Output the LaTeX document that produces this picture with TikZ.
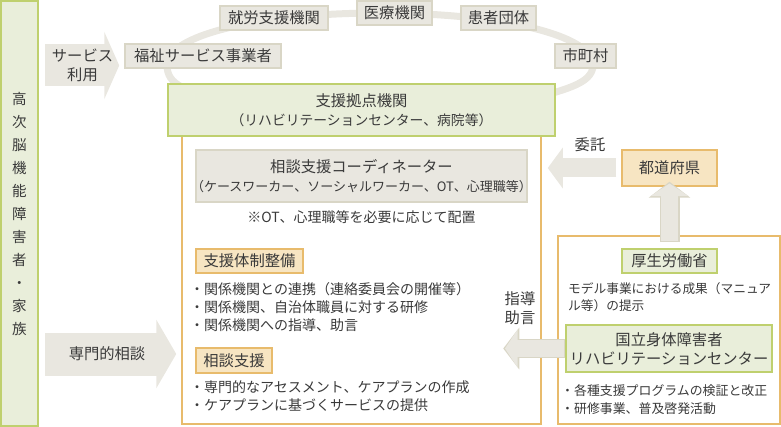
\documentclass[tikz,border=0pt]{standalone}
\usepackage{fontspec}
\usetikzlibrary{arrows.meta,positioning}
\setmainfont{Noto Sans CJK JP}
\definecolor{softfill}{HTML}{E9E7E0}
\definecolor{softline}{HTML}{D9D6C6}
\definecolor{leaffill}{HTML}{E9EEDA}
\definecolor{leafline}{HTML}{BFD06E}
\definecolor{sandfill}{HTML}{F7E5C2}
\definecolor{sandline}{HTML}{E8BB6C}
\definecolor{inktext}{HTML}{3A3A3A}
\newcommand{\bigfont}{\fontsize{15.3}{19}\selectfont}
\tikzset{
  panelbox/.style={draw=sandline,line width=1.5pt,fill=white,inner sep=0pt},
  softbox/.style={draw=softline,line width=1.5pt,fill=softfill,inner sep=0pt,align=center},
  leafbox/.style={draw=leafline,line width=1.5pt,fill=leaffill,inner sep=0pt,align=center},
  sandbox/.style={draw=sandline,line width=1.5pt,fill=sandfill,inner sep=0pt,align=center},
  plaintext/.style={inner sep=0pt,align=left},
  softarrow/.style n args={3}{draw=softfill,line width=#1,-{Triangle[length=#2,width=#3]}},
  softlined/.style n args={3}{draw=softline,line width=#1,-{Triangle[length=#2,width=#3]},
    postaction={draw=softfill,line width=#1-2.4pt,shorten >=1.8pt,shorten <=1.2pt,
      -{Triangle[length=#2-3.4pt,width=#3-3.4pt]}}}
}
\begin{document}
\begin{tikzpicture}[x=1pt,y=-1pt,on grid,font=\bigfont,text=inktext]
   \useasboundingbox (0,0) rectangle (781,427);
   % ring behind the agencies
   \draw[softfill,line width=7pt] (380,13) .. controls (500,13) and (593,35) .. (593,65)
      .. controls (593,85) and (560,90) .. (530,100) -- (220,100)
      .. controls (185,90) and (167,85) .. (167,65) .. controls (167,35) and (260,13) .. (380,13);
   \node[panelbox,minimum width=359pt,minimum height=288pt] (panel) at (361.5,280) {};
   \node[panelbox,minimum width=222pt,minimum height=188pt] (office) at (669,330) {};
   \node[leafbox,minimum width=37pt,minimum height=425pt,font=\fontsize{14.5}{23}\selectfont] (family) at (19.5,213.5)
      {高\\次\\脳\\機\\能\\障\\害\\者\\・\\家\\族};
   \node[softbox,minimum width=156pt,minimum height=24pt] (fukushi) at (203,56) {福祉サービス事業者};
   \node[softbox,minimum width=108pt,minimum height=24pt] (shuro) [above right=38pt and 71pt of fukushi] {就労支援機関};
   \node[softbox,minimum width=75pt,minimum height=24pt] (iryo) [above right=5pt and 120.5pt of shuro] {医療機関};
   \node[softbox,minimum width=75pt,minimum height=24pt] (kanja) [below right=5pt and 104pt of iryo] {患者団体};
   \node[softbox,minimum width=61pt,minimum height=24pt] (shicho) [below right=38pt and 87pt of kanja] {市町村};
   \node[leafbox,minimum width=387pt,minimum height=52pt] (hub) [above=170pt of panel]
      {支援拠点機関\\{\fontsize{13.8}{19}\selectfont （リハビリテーションセンター、病院等）}};
   \node[softbox,minimum width=331pt,minimum height=52pt] (coord) [below=66pt of hub]
      {相談支援コーディネーター\\\makebox[320pt][c]{\fontsize{13}{19}\selectfont （ケースワーカー、ソーシャルワーカー、OT、心理職等）}};
   \node[plaintext,font=\fontsize{14}{18}\selectfont] (note) [below=41pt of coord] {※OT、心理職等を必要に応じて配置};
   \node[sandbox,minimum width=107pt,minimum height=24pt] (taisei) [below left=85pt and 112pt of coord] {支援体制整備};
   \node[plaintext,font=\fontsize{14}{18.3}\selectfont,anchor=west] (list1) at (190,307)
      {・関係機関との連携（連絡委員会の開催等）\\・関係機関、自治体職員に対する研修\\・関係機関への指導、助言};
   \node[sandbox,minimum width=76pt,minimum height=25pt] (soudan) [below left=99.5pt and 15.5pt of taisei] {相談支援};
   \node[plaintext,font=\fontsize{14}{18.3}\selectfont,anchor=west] (list2) at (190,396)
      {・専門的なアセスメント、ケアプランの作成\\・ケアプランに基づくサービスの提供};
   \node[sandbox,minimum width=95pt,minimum height=36pt] (ken) at (669.5,168) {都道府県};
   \node[leafbox,minimum width=95pt,minimum height=24pt] (kosei) [below=93pt of ken] {厚生労働省};
   \node[plaintext,font=\fontsize{12.7}{17}\selectfont,anchor=west] (model) at (568,297.5)
      {モデル事業における成果（マニュア\\ル等）の提示};
   \node[leafbox,minimum width=206pt,minimum height=47pt] (koku) at (669,348.5) {国立身体障害者\\リハビリテーションセンター};
   \node[plaintext,font=\fontsize{12.9}{17.3}\selectfont,anchor=west] (list3) at (561,399.5)
      {・各種支援プログラムの検証と改正\\・研修事業、普及啓発活動};
   % block arrows
   \coordinate (svc) at (45,65.5);
   \coordinate (sen) at (45,354);
   \draw[softarrow={42pt}{15pt}{67pt}] (svc) -- ([xshift=-5pt]svc -| fukushi.west);
   \draw[softarrow={43pt}{20pt}{68pt}] (sen) -- ([xshift=-5pt]sen -| panel.west);
   \draw[softarrow={19pt}{15pt}{40pt}] ([xshift=-5pt]ken.west) -- ([xshift=6pt]ken.west -| panel.east);
   \draw[softlined={20pt}{16pt}{41pt}] ([yshift=6pt]kosei.north) -- ([yshift=5pt]ken.south);
   \draw[softlined={19pt}{16pt}{41pt}] (koku.west) -- ([xshift=-62pt]koku.west);
   \node[plaintext,align=center] (svctext) at (82.5,65) {サービス\\利用};
   \node[plaintext] (sentext) at (107,354) {専門的相談};
   \node[plaintext] (itaku) at (590,145) {委託};
   \node[plaintext,align=center] (shido) at (520,308) {指導\\助言};
\end{tikzpicture}
\end{document}
